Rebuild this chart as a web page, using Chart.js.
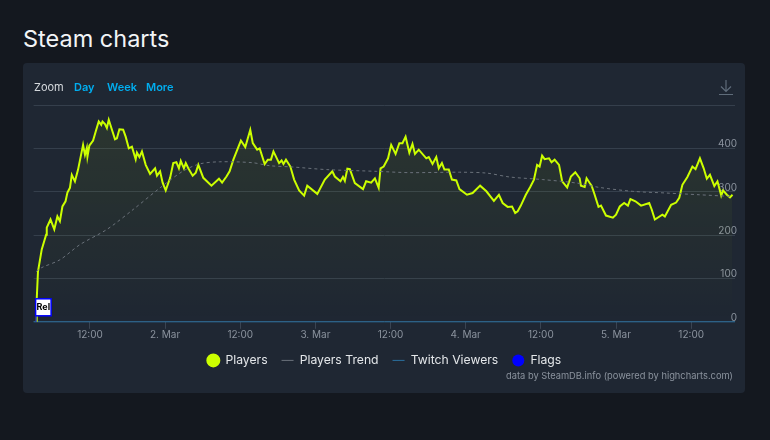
<!DOCTYPE html>
<html><head><meta charset="utf-8">
<style>
html,body{margin:0;padding:0;width:770px;height:440px;overflow:hidden;background:#14181f;font-family:Inter,sans-serif}
#title{position:absolute;left:23px;top:24px;font-size:23.5px;line-height:30px;color:#f2f4f6;font-weight:400}
#card{position:absolute;left:23px;top:63px;width:722px;height:330px;background:#1f2733;border-radius:4px}
#chartwrap{position:absolute;left:0;top:0;width:770px;height:440px}
.z{position:absolute;top:80px;font-size:11px;line-height:15px}
#zl{left:34px;color:#d6dade}
.b{color:#00aef0;font-weight:600}
#credit{position:absolute;right:37px;top:369px;font-size:9.3px;line-height:14px;color:#8b939e}
#dl{position:absolute;left:718px;top:79px}
</style></head><body>
<div id="title">Steam charts</div>
<div id="card"></div>
<div id="chartwrap"><canvas id="c" width="770" height="440"></canvas></div>
<div class="z" id="zl">Zoom</div>
<div class="z b" style="left:74px">Day</div>
<div class="z b" style="left:107px">Week</div>
<div class="z b" style="left:146px">More</div>
<svg id="dl" width="16" height="17" viewBox="0 0 16 17" fill="none" stroke="#5f6c7a" stroke-width="1.2"><path d="M8 1V12M3 7.5L8 12.5L13 7.5M1 15.5H15"/></svg>
<div id="credit">data by SteamDB.info (powered by highcharts.com)</div>
<script src="https://cdn.jsdelivr.net/npm/chart.js@4"></script>
<script>
const playerHours=[3.4,3.5,3.7,4.3,5.0,5.1,5.7,6.3,6.8,7.2,7.6,8.1,8.4,8.8,9.1,9.6,10.1,10.9,11.2,11.5,11.6,11.9,12.5,13.0,13.4,13.8,14.0,14.4,14.7,15.0,15.6,16.0,16.3,16.7,17.3,17.7,18.2,18.7,19.3,19.5,19.9,20.3,20.9,21.6,22.4,22.7,23.2,23.6,24.1,24.8,25.3,25.8,26.2,26.5,27.0,27.3,27.7,28.4,28.9,29.3,30.1,31.4,32.6,33.1,33.8,34.3,34.9,36.1,36.8,37.6,38.0,38.7,39.1,39.9,40.4,40.9,41.3,42.2,42.6,42.9,43.3,44.0,44.6,45.4,46.2,46.7,48.3,49.5,50.7,51.1,52.0,52.4,52.7,53.1,53.5,54.3,55.6,56.1,56.9,57.5,58.1,58.4,58.9,59.6,60.1,60.8,61.4,61.9,62.4,63.0,63.5,63.9,64.5,65.7,66.1,66.7,67.3,67.7,68.2,68.6,69.3,69.8,70.5,71.0,72.2,73.1,74.3,75.3,76.5,77.3,77.9,78.7,79.4,79.9,80.3,80.8,81.6,82.3,82.9,83.4,83.8,84.2,84.6,85.3,85.7,86.2,86.9,87.4,88.2,88.8,89.5,90.2,90.4,91.0,91.3,91.8,92.1,92.5,93.2,93.6,94.4,95.5,96.0,96.6,97.3,97.9,98.3,99.1,100.0,101.3,101.7,102.2,103.4,103.8,104.8,105.6,106.1,106.6,107.4,108.2,108.7,109.4,110.0,110.5,111.0,111.7,112.2,112.8,113.1,113.7,114.2,114.6];
const playerValues=[1,52,116,167,201,217,236,213,243,232,266,278,298,309,339,324,351,408,385,401,381,406,418,443,462,454,462,456,447,466,439,421,423,444,443,427,400,404,375,390,380,393,362,341,354,337,347,321,303,332,366,368,354,371,354,366,354,337,344,362,332,314,330,321,335,347,374,418,403,443,412,397,400,364,374,374,393,366,372,364,374,358,328,303,291,314,295,328,347,335,324,334,325,353,352,320,306,324,321,331,309,354,358,377,408,387,412,412,427,390,410,387,397,377,380,364,380,354,366,351,351,328,326,306,293,297,314,301,279,293,274,265,266,251,255,268,293,311,328,362,358,383,375,377,368,374,362,324,310,335,345,331,314,311,331,320,314,297,265,268,245,240,247,266,274,268,283,278,268,274,259,236,247,243,270,275,286,316,334,358,352,377,354,330,339,313,324,291,303,293,287,293];
const trendHours=[3.4,4.3,7.2,10.4,14.7,18.9,23.2,26.8,29.5,32.7,37.9,40.7,44.4,49.8,57.8,63,71,75.3,79,84.3,89.7,93.3,98.6,104,109.3,114.6];
const trendValues=[116,125,143,178,213,259,309,347,364,369,367,360,357,351,347,344,345,343,334,328,320,310,301,297,293,289];
const twitchHours=[3,115];
const twitchValues=[0,0];
const flagHours=[3.4];
const flagValues=[0];
const flagLabels=["Rel"];
const xTickHours=[12,24,36,48,60,72,84,96,108];
const xTickLabels=["12:00","2. Mar","12:00","3. Mar","12:00","4. Mar","12:00","5. Mar","12:00"];
const yTickValues=[0,100,200,300,400,500];
const yTickLabels=["0","100","200","300","400",""];
const zip=(a,b)=>a.map((x,i)=>({x,y:b[i]}));
Chart.defaults.font.family="Inter";
const canvas=document.getElementById("c");
const fade=canvas.getContext("2d").createLinearGradient(0,120,0,322);
fade.addColorStop(0,"rgba(204,255,0,0.07)");
fade.addColorStop(1,"rgba(204,255,0,0)");
const flagPlugin={id:"flagPlugin",afterDatasetsDraw(ch){
  const ctx=ch.ctx,x=ch.scales.x,y=ch.scales.y;
  flagHours.forEach((h,i)=>{
    const px=x.getPixelForValue(h),py=y.getPixelForValue(flagValues[i]);
    ctx.save();
    ctx.strokeStyle="#0000ff";ctx.lineWidth=1;
    ctx.beginPath();ctx.moveTo(px,py);ctx.lineTo(px,py-6);ctx.stroke();
    ctx.fillStyle="#ffffff";ctx.lineWidth=1.5;
    ctx.fillRect(px-.5,py-23,15.5,17);ctx.strokeRect(px-.5,py-23,15.5,17);
    ctx.fillStyle="#000";ctx.font="bold 9px Inter";ctx.textAlign="center";ctx.textBaseline="middle";
    ctx.fillText(flagLabels[i],px+7.2,py-14.5);
    ctx.restore();
  });
}};
new Chart(canvas,{
  type:"line",
  plugins:[flagPlugin],
  data:{datasets:[
    {label:"Players",data:zip(playerHours,playerValues),borderColor:"#ccff00",backgroundColor:"#ccff00",borderWidth:2,pointRadius:0,tension:0,pointStyle:"circle",order:1,
     fill:{target:"origin",above:fade}},
    {label:"Players Trend",data:zip(trendHours,trendValues),borderColor:"#6b727b",backgroundColor:"#6b727b",borderWidth:1,borderDash:[3,3],pointRadius:0,tension:0.3,pointStyle:"line",order:0},
    {label:"Twitch Viewers",data:zip(twitchHours,twitchValues),borderColor:"#2a6f9e",backgroundColor:"#2a6f9e",borderWidth:1,pointRadius:0,pointStyle:"line",order:2,clip:false},
    {label:"Flags",data:zip(flagHours,flagValues),borderColor:"#0000ff",backgroundColor:"#0000ff",borderWidth:0,pointRadius:0,showLine:false,pointStyle:"circle",order:3}
  ]},
  options:{
    responsive:false,animation:false,
    layout:{padding:{left:33.6,right:35,top:105,bottom:63.5}},
    plugins:{
      title:{display:false},tooltip:{enabled:false},
      legend:{display:true,position:"bottom",onClick:null,
        labels:{usePointStyle:true,pointStyleWidth:12,boxHeight:8.5,padding:14,color:"#e4e7ea",font:{size:12.2,family:"Inter"},
          sort:(a,b)=>a.datasetIndex-b.datasetIndex}}
    },
    scales:{
      x:{type:"linear",min:3,max:115,
        afterBuildTicks(s){s.ticks=xTickHours.map(v=>({value:v}));},
        afterFit(s){s.height=18.5;},
        grid:{drawOnChartArea:false,drawTicks:true,tickLength:7,tickColor:"#3a4452"},
        border:{display:false},
        ticks:{autoSkip:false,maxRotation:0,padding:0,color:"#8b939e",font:{size:10},
          callback(v){const i=xTickHours.indexOf(v);return i<0?"":xTickLabels[i];}}
      },
      y:{type:"linear",position:"right",min:0,max:500,
        afterBuildTicks(s){s.ticks=yTickValues.map(v=>({value:v}));},
        afterFit(s){s.width=0;},
        grid:{color:"#353f4c",lineWidth:1,drawTicks:false},
        border:{display:false},
        ticks:{mirror:true,padding:2,labelOffset:-4,color:"#8b939e",font:{size:10},
          callback(v){const i=yTickValues.indexOf(v);return i<0?"":yTickLabels[i];}}
      }
    }
  }
});
</script>
</body></html>
